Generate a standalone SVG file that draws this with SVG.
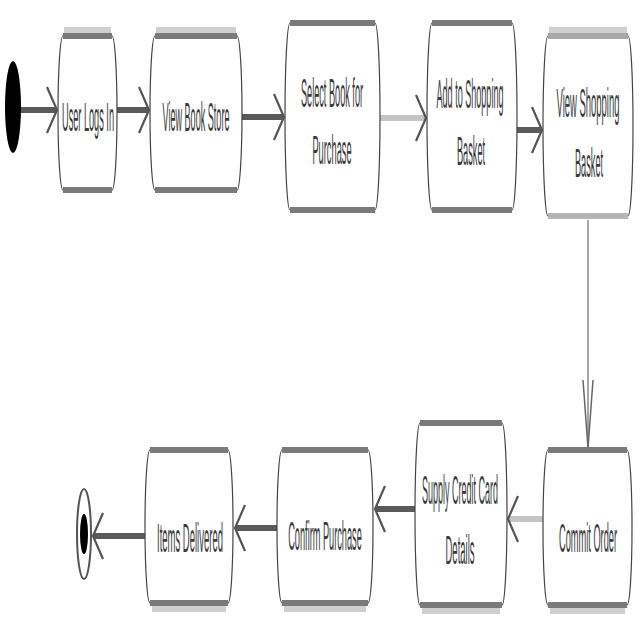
<svg xmlns="http://www.w3.org/2000/svg" width="640" height="640" viewBox="0 0 640 640">
<style>
.body{fill:#fff;stroke:#444;stroke-width:1.2}
.bar{stroke:#7a7a7a;stroke-width:6}
.lbar{stroke:#cfcfcf;stroke-width:6}
.lbl{font-family:"Liberation Sans",Arial,sans-serif;font-size:40px;fill:#3a3a3a;text-anchor:middle}
.flow{stroke:#5a5a5a;stroke-width:6;fill:none}
.flowl{stroke:#c4c4c4;stroke-width:6;fill:none}
.thin{stroke:#8a8a8a;stroke-width:1.5;fill:none}
</style>
<defs>
<marker id="open" markerUnits="userSpaceOnUse" markerWidth="14" markerHeight="52" viewBox="-2 -26 14 52" refX="10" refY="0" orient="auto">
<path d="M0,-23 L10,0 L0,23" fill="none" stroke="#555" stroke-width="2.2"/>
</marker>
<marker id="openv" markerUnits="userSpaceOnUse" markerWidth="72" markerHeight="14" viewBox="-2 -7 72 14" refX="68" refY="0" orient="auto">
<path d="M0,-5 L68,0 L0,5" fill="none" stroke="#666" stroke-width="1.5"/>
</marker>
</defs>
<rect width="640" height="640" fill="#fff"/>

<g id="connectors">
<line class="flow" x1="20" y1="110" x2="57" y2="110" marker-end="url(#open)"/>
<line class="flow" x1="117" y1="110" x2="149" y2="110" marker-end="url(#open)"/>
<line class="flow" x1="242" y1="117" x2="284" y2="117" marker-end="url(#open)"/>
<line class="flowl" x1="380" y1="118" x2="426" y2="118" marker-end="url(#open)"/>
<line class="flow" x1="517" y1="130" x2="542" y2="130" marker-end="url(#open)"/>
<line class="thin" x1="588" y1="220" x2="588" y2="448" marker-end="url(#openv)"/>
<line class="flowl" x1="543" y1="519" x2="508" y2="519" marker-end="url(#open)"/>
<line class="flow" x1="415" y1="509" x2="375" y2="509" marker-end="url(#open)"/>
<line class="flow" x1="277" y1="528" x2="235" y2="528" marker-end="url(#open)"/>
<line class="flow" x1="145" y1="536" x2="93" y2="536" marker-end="url(#open)"/>
</g>

<g id="start"><ellipse cx="13" cy="107" rx="8" ry="46" fill="#000"/></g>

<g id="n1">
<rect class="body" x="58" y="36" width="59" height="154" rx="5" ry="77"/>
<line class="lbar" x1="64" y1="30" x2="111" y2="30"/>
<line class="bar" x1="63" y1="36" x2="112" y2="36"/>
<line class="bar" x1="63" y1="190" x2="112" y2="190"/>
<text class="lbl" transform="translate(88 131) scale(0.23 1)" textLength="226" lengthAdjust="spacingAndGlyphs">User Logs In</text>
</g>

<g id="n2">
<rect class="body" x="150" y="36" width="92" height="154" rx="5" ry="77"/>
<line class="lbar" x1="156" y1="30" x2="236" y2="30"/>
<line class="bar" x1="155" y1="36" x2="237" y2="36"/>
<line class="bar" x1="155" y1="190" x2="237" y2="190"/>
<text class="lbl" transform="translate(196 131) scale(0.23 1)" textLength="291" lengthAdjust="spacingAndGlyphs">View Book Store</text>
</g>

<g id="n3">
<rect class="body" x="285" y="23" width="95" height="187" rx="5" ry="93"/>
<line class="bar" x1="290" y1="23" x2="375" y2="23"/>
<line class="bar" x1="290" y1="210" x2="375" y2="210"/>
<text class="lbl" transform="translate(332 107) scale(0.23 1)" textLength="270" lengthAdjust="spacingAndGlyphs">Select Book for</text>
<text class="lbl" transform="translate(332 164) scale(0.23 1)" textLength="170" lengthAdjust="spacingAndGlyphs">Purchase</text>
</g>

<g id="n4">
<rect class="body" x="427" y="23" width="90" height="187" rx="5" ry="93"/>
<line class="bar" x1="432" y1="23" x2="512" y2="23"/>
<line class="bar" x1="432" y1="210" x2="512" y2="210"/>
<text class="lbl" transform="translate(470 108) scale(0.23 1)" textLength="291" lengthAdjust="spacingAndGlyphs">Add to Shopping</text>
<text class="lbl" transform="translate(471 165) scale(0.23 1)" textLength="122" lengthAdjust="spacingAndGlyphs">Basket</text>
</g>

<g id="n5">
<rect class="body" x="543" y="36" width="90" height="180" rx="5" ry="90"/>
<line class="lbar" x1="549" y1="30" x2="627" y2="30"/>
<line class="bar" x1="548" y1="36" x2="628" y2="36" style="stroke:#a8a8a8"/>
<line class="bar" x1="548" y1="216" x2="628" y2="216" style="stroke:#b5b5b5"/>
<text class="lbl" transform="translate(588 117) scale(0.23 1)" textLength="274" lengthAdjust="spacingAndGlyphs">View Shopping</text>
<text class="lbl" transform="translate(589 177) scale(0.23 1)" textLength="122" lengthAdjust="spacingAndGlyphs">Basket</text>
</g>

<g id="n6">
<rect class="body" x="543" y="450" width="89" height="155" rx="5" ry="77"/>
<line class="bar" x1="548" y1="450" x2="627" y2="450"/>
<line class="bar" x1="548" y1="605" x2="627" y2="605"/>
<line class="lbar" x1="550" y1="611" x2="625" y2="611"/>
<text class="lbl" transform="translate(588 552) scale(0.23 1)" textLength="252" lengthAdjust="spacingAndGlyphs">Commit Order</text>
</g>

<g id="n7">
<rect class="body" x="415" y="423" width="92" height="182" rx="5" ry="91"/>
<line class="bar" x1="420" y1="423" x2="502" y2="423"/>
<line class="bar" x1="420" y1="605" x2="502" y2="605"/>
<line class="lbar" x1="422" y1="611" x2="500" y2="611"/>
<text class="lbl" transform="translate(460 504) scale(0.23 1)" textLength="330" lengthAdjust="spacingAndGlyphs">Supply Credit Card</text>
<text class="lbl" transform="translate(460 564) scale(0.23 1)" textLength="126" lengthAdjust="spacingAndGlyphs">Details</text>
</g>

<g id="n8">
<rect class="body" x="277" y="450" width="96" height="153" rx="5" ry="76"/>
<line class="bar" x1="282" y1="450" x2="368" y2="450"/>
<line class="bar" x1="282" y1="603" x2="368" y2="603"/>
<line class="lbar" x1="284" y1="609" x2="366" y2="609"/>
<text class="lbl" transform="translate(325 550) scale(0.23 1)" textLength="320" lengthAdjust="spacingAndGlyphs">Confirm Purchase</text>
</g>

<g id="n9">
<rect class="body" x="145" y="450" width="88" height="153" rx="5" ry="76"/>
<line class="bar" x1="150" y1="450" x2="228" y2="450"/>
<line class="bar" x1="150" y1="603" x2="228" y2="603"/>
<line class="lbar" x1="152" y1="609" x2="226" y2="609"/>
<text class="lbl" transform="translate(190 552) scale(0.23 1)" textLength="287" lengthAdjust="spacingAndGlyphs">Items Delivered</text>
</g>

<g id="end">
<ellipse cx="84" cy="534" rx="7" ry="45" fill="#fff" stroke="#555" stroke-width="2"/>
<ellipse cx="84" cy="534" rx="4" ry="20" fill="#000"/>
</g>
</svg>
